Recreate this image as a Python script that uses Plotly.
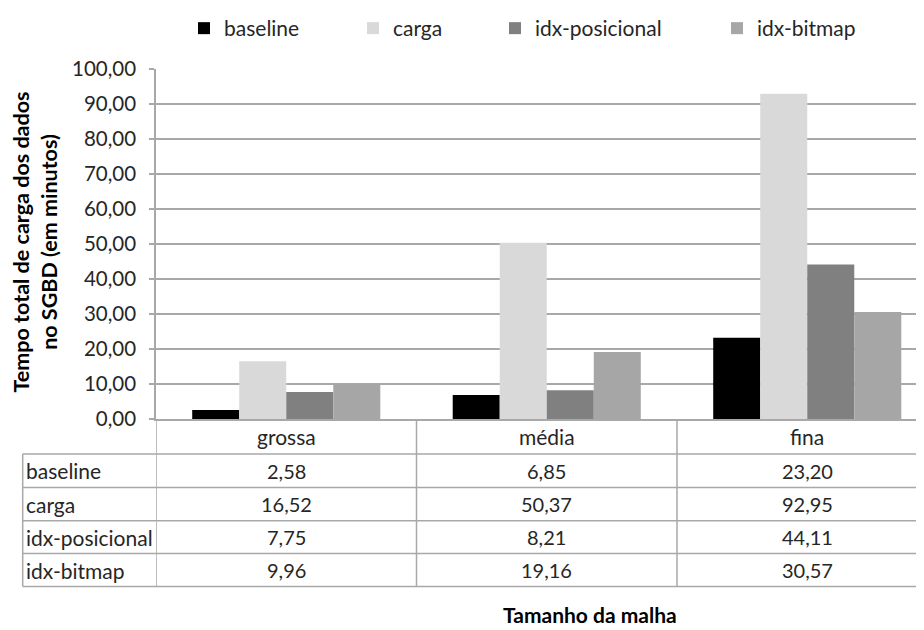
import plotly.graph_objects as go

categories = ["grossa", "média", "fina"]
series_names = ["baseline", "carga", "idx-posicional", "idx-bitmap"]
baseline = [2.58, 6.85, 23.20]
carga = [16.52, 50.37, 92.95]
idx_posicional = [7.75, 8.21, 44.11]
idx_bitmap = [9.96, 19.16, 30.57]
y_ticks = [0, 10, 20, 30, 40, 50, 60, 70, 80, 90, 100]
y_title = "Tempo total de carga dos dados<br>no SGBD (em minutos)"
x_title = "Tamanho da malha"

series_values = [baseline, carga, idx_posicional, idx_bitmap]
colors = ["#000000", "#d9d9d9", "#808080", "#a6a6a6"]

OFF = 8  # page body margin
W, H = 924 - OFF, 630 - OFF
L, R, T = 156 - OFF, 0, 68 - OFF
B = H - (419 - OFF)
PW = W - L - R
PH = H - T - B
CAT_W = 260.5
FONT = "Lato"
TXT = "#262626"
LINE = "#a8a8a8"


def px_x(px):
    # px given in reference-screen pixels
    return (px - OFF - L) / PW


def px_y(py):
    return (H - B - (py - OFF)) / PH


def fmt(v):
    return f"{v:.2f}".replace(".", ",")


legend_lefts = [184, 353, 495, 717]
fig = go.Figure()
for i, (name, vals, col) in enumerate(zip(series_names, series_values, colors)):
    lname = "legend" if i == 0 else f"legend{i+1}"
    fig.add_trace(go.Bar(
        x=list(range(len(categories))), y=vals, name=name,
        marker=dict(color=col, line=dict(width=0)),
        legend=lname, showlegend=True,
    ))

leg_common = dict(orientation="h", xanchor="left", yanchor="middle",
                  y=px_y(27), bgcolor="rgba(0,0,0,0)", borderwidth=0,
                  font=dict(family=FONT, size=21, color=TXT))
layout_legends = {}
for i, lx in enumerate(legend_lefts):
    key = "legend" if i == 0 else f"legend{i+1}"
    layout_legends[key] = dict(x=px_x(lx), **leg_common)

shapes = []
row_lines = [454, 487.7, 521, 554, 587]
for xv in [-0.5, 0.5, 1.5]:
    shapes.append(dict(type="line", xref="x", yref="paper", x0=xv, x1=xv,
                       y0=px_y(419), y1=px_y(587), line=dict(color=LINE, width=1.5)))
shapes.append(dict(type="line", xref="paper", yref="paper", x0=px_x(22.7), x1=px_x(22.7),
                   y0=px_y(454), y1=px_y(587), line=dict(color=LINE, width=1.5)))
for ry in row_lines:
    shapes.append(dict(type="line", xref="paper", yref="paper", x0=px_x(22.7), x1=1,
                       y0=px_y(ry), y1=px_y(ry), line=dict(color=LINE, width=1.5)))

annotations = []
for ci, cat in enumerate(categories):
    annotations.append(dict(x=ci, y=px_y(436.5), xref="x", yref="paper", text=cat,
                            showarrow=False, xanchor="center", yanchor="middle",
                            font=dict(family=FONT, size=21, color=TXT)))
row_centers = [(row_lines[k] + row_lines[k + 1]) / 2 for k in range(4)]
for ri, (name, vals) in enumerate(zip(series_names, series_values)):
    annotations.append(dict(x=px_x(24), y=px_y(row_centers[ri]), xref="paper", yref="paper",
                            text=name, showarrow=False, xanchor="left", yanchor="middle",
                            font=dict(family=FONT, size=21, color=TXT)))
    for ci, v in enumerate(vals):
        annotations.append(dict(x=ci, y=px_y(row_centers[ri]), xref="x", yref="paper",
                                text=fmt(v), showarrow=False, xanchor="center", yanchor="middle",
                                font=dict(family=FONT, size=20, color=TXT)))
annotations.append(dict(x=px_x(35), y=px_y(242), xref="paper", yref="paper", text=y_title,
                        textangle=-90, showarrow=False, xanchor="center", yanchor="middle",
                        font=dict(family=FONT, size=21.5, color="#000000", weight="bold")))
annotations.append(dict(x=px_x(590), y=px_y(615), xref="paper", yref="paper", text=x_title,
                        showarrow=False, xanchor="center", yanchor="middle",
                        font=dict(family=FONT, size=21, color="#000000", weight="bold")))

fig.update_layout(
    width=W, height=H,
    margin=dict(l=L, r=R, t=T, b=B, pad=0),
    paper_bgcolor="white", plot_bgcolor="white",
    showlegend=True,
    barmode="group", bargap=0.278, bargroupgap=0,
    separators=",.",
    xaxis=dict(range=[-0.5, -0.5 + PW / CAT_W], showticklabels=False, showgrid=False,
               zeroline=False, showline=True, linecolor=LINE, linewidth=1.5, ticks=""),
    yaxis=dict(range=[0, 100], tickvals=y_ticks, tickformat=".2f", showgrid=True,
               gridcolor=LINE, gridwidth=1.5, zeroline=False, showline=True,
               linecolor=LINE, linewidth=1.5, ticks="outside", ticklen=5,
               tickcolor=LINE, tickwidth=1.5, ticklabelstandoff=9,
               tickfont=dict(family=FONT, size=20.5, color=TXT)),
    shapes=shapes, annotations=annotations,
    **layout_legends,
)

fig.write_html("out.html")
